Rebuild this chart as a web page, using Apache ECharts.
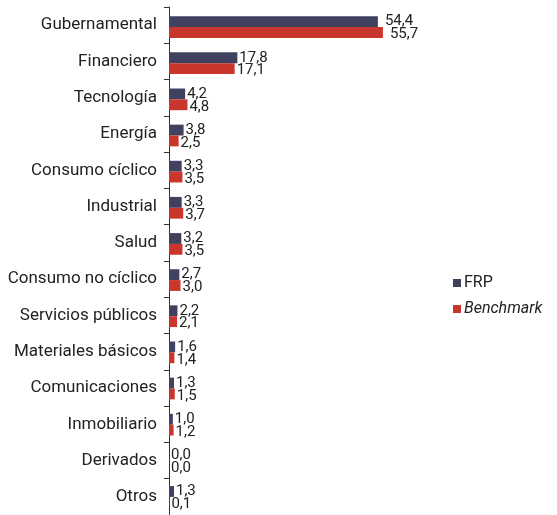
<!DOCTYPE html>
<html>
<head>
<meta charset="utf-8">
<script src="https://cdn.jsdelivr.net/npm/echarts@6/dist/echarts.min.js"></script>
<style>
  html, body { margin: 0; padding: 0; background: #ffffff; }
  #chart { width: 557px; height: 515px; }
</style>
</head>
<body>
<div id="chart"></div>
<script>
// Sector breakdown (%)
var categories = [
  'Gubernamental', 'Financiero', 'Tecnología', 'Energía', 'Consumo cíclico',
  'Industrial', 'Salud', 'Consumo no cíclico', 'Servicios públicos',
  'Materiales básicos', 'Comunicaciones', 'Inmobiliario', 'Derivados', 'Otros'
];
var frpValues = [54.4, 17.8, 4.2, 3.8, 3.3, 3.3, 3.2, 2.7, 2.2, 1.6, 1.3, 1.0, 0.0, 1.3];
var benchmarkValues = [55.7, 17.1, 4.8, 2.5, 3.5, 3.7, 3.5, 3.0, 2.1, 1.4, 1.5, 1.2, 0.0, 0.1];
var seriesNames = ['FRP', 'Benchmark'];

var FONT = 'Roboto, "Liberation Sans", sans-serif';

function fmt(p) {
  return p.value.toFixed(1).replace('.', ',');
}

// Long bars get their value label pushed a little further out
function withLabelGap(values) {
  return values.map(function (v) {
    return v > 40 ? { value: v, label: { distance: 7 } } : v;
  });
}

var chart = echarts.init(document.getElementById('chart'), null, { renderer: 'canvas' });

var gridW = 384;
chart.setOption({
  animation: false,
  backgroundColor: '#ffffff',
  // grid 0 carries the category axis; grid 1 carries the bars (nudged down slightly)
  grid: [
    { left: 169, top: 7, width: gridW, height: 511, containLabel: false },
    { left: 169, top: 9, width: gridW, height: 511, containLabel: false }
  ],
  xAxis: [
    { type: 'value', gridIndex: 0, min: 0, max: 100, show: false },
    { type: 'value', gridIndex: 1, min: 0, max: 100, show: false }
  ],
  yAxis: [
    {
      type: 'category',
      gridIndex: 0,
      inverse: true,
      data: categories,
      axisLine: { show: true, lineStyle: { color: '#333333', width: 1 } },
      axisTick: { show: true, length: 5, lineStyle: { color: '#333333' } },
      axisLabel: { color: '#222222', fontSize: 17, fontFamily: FONT, margin: 12 }
    },
    {
      type: 'category',
      gridIndex: 1,
      inverse: true,
      data: categories,
      show: false
    }
  ],
  legend: {
    orient: 'vertical',
    left: 448,
    top: 270,
    itemWidth: 8,
    itemHeight: 8,
    itemGap: 10,
    icon: 'rect',
    data: seriesNames,
    formatter: function (name) {
      return name === 'Benchmark' ? '{i|' + name + '}' : '{n|' + name + '}';
    },
    textStyle: {
      color: '#222222',
      fontFamily: FONT,
      fontSize: 16,
      padding: [0, 0, 0, -2],
      rich: {
        n: { fontSize: 16, fontFamily: FONT, color: '#222222' },
        i: { fontSize: 16, fontFamily: FONT, color: '#222222', fontStyle: 'italic' }
      }
    }
  },
  series: [
    {
      name: seriesNames[0],
      type: 'bar',
      xAxisIndex: 1,
      yAxisIndex: 1,
      data: withLabelGap(frpValues),
      itemStyle: { color: '#40415f' },
      barGap: '0%',
      barCategoryGap: '40%',
      label: {
        show: true, position: 'right', distance: 2, offset: [0, 0],
        color: '#222222', fontSize: 15, fontFamily: FONT, formatter: fmt
      }
    },
    {
      name: seriesNames[1],
      type: 'bar',
      xAxisIndex: 1,
      yAxisIndex: 1,
      data: withLabelGap(benchmarkValues),
      itemStyle: { color: '#c8362c' },
      barGap: '0%',
      barCategoryGap: '40%',
      label: {
        show: true, position: 'right', distance: 2, offset: [0, 2],
        color: '#222222', fontSize: 15, fontFamily: FONT, formatter: fmt
      }
    }
  ]
});
</script>
</body>
</html>
